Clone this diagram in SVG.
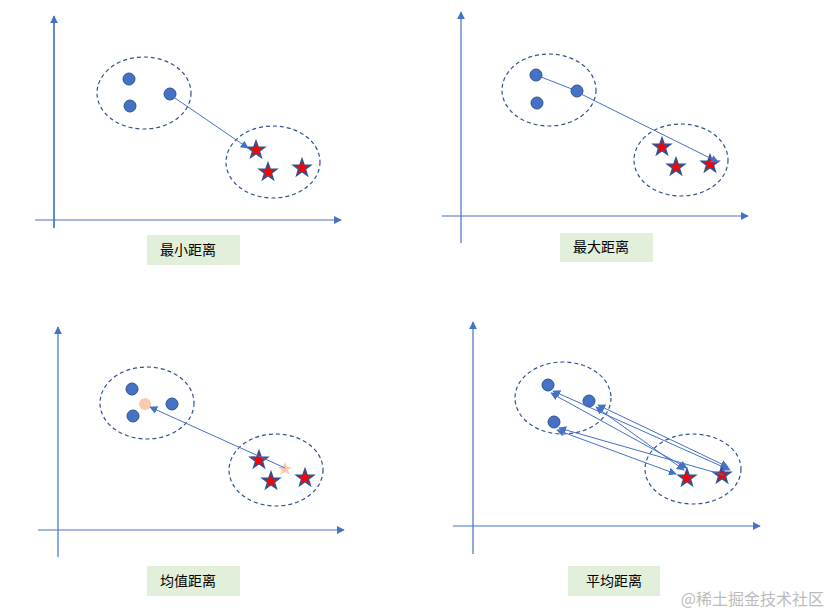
<svg xmlns="http://www.w3.org/2000/svg" width="832" height="614" viewBox="0 0 832 614">
<style>
.ax{stroke:#4472c4;stroke-width:1.2;fill:none}
.ln{stroke:#4472c4;stroke-width:1;fill:none}
.el{stroke:#2f528f;stroke-width:1.2;stroke-dasharray:4 3;fill:none}
.dot{fill:#4472c4;stroke:#2f528f;stroke-width:1}
.lb{fill:#e2efda}
.tx{font-family:"Noto Sans CJK SC","Liberation Sans",sans-serif;font-size:14px;fill:#000;text-anchor:middle}
</style>
<defs>
<marker id="ah" viewBox="0 0 10 10" refX="9" refY="5" markerWidth="8" markerHeight="8" orient="auto-start-reverse" markerUnits="userSpaceOnUse"><path d="M0,0 L10,5 L0,10 z" fill="#4472c4"/></marker>
<symbol id="star" viewBox="-10 -10 20 20" overflow="visible"><path d="M0,-9 L2.1,-2.9 L8.6,-2.8 L3.4,1.1 L5.3,7.3 L0,3.6 L-5.3,7.3 L-3.4,1.1 L-8.6,-2.8 L-2.1,-2.9 Z" fill="#ff0000" stroke="#2f528f" stroke-width="1.5"/></symbol>
</defs>
<rect width="832" height="614" fill="#fff"/>
<g id="axes">
<path class="ax" d="M54,228 V16 M35,220 H341" marker-end="url(#ah)"/>
<path class="ax" d="M54,228 V16" marker-end="url(#ah)"/>
<path class="ax" d="M461,243 V12" marker-end="url(#ah)"/>
<path class="ax" d="M442,216 H748" marker-end="url(#ah)"/>
<path class="ax" d="M58,557 V327" marker-end="url(#ah)"/>
<path class="ax" d="M38,530 H344" marker-end="url(#ah)"/>
<path class="ax" d="M473,554 V322" marker-end="url(#ah)"/>
<path class="ax" d="M453,526 H760" marker-end="url(#ah)"/>
</g>
<g id="p1">
<ellipse class="el" cx="144" cy="93" rx="47" ry="36"/>
<ellipse class="el" cx="273" cy="162" rx="47" ry="36"/>
<circle class="dot" cx="129" cy="79" r="6"/><circle class="dot" cx="130" cy="106" r="6"/><circle class="dot" cx="170" cy="94" r="6"/>
<use href="#star" x="246" y="140" width="20" height="20"/><use href="#star" x="258" y="162" width="20" height="20"/><use href="#star" x="292" y="158" width="20" height="20"/>
<rect class="lb" x="147" y="235" width="93" height="30"/><text class="tx" x="188" y="255">最小距离</text>
</g>
<g id="p2">
<ellipse class="el" cx="549" cy="90" rx="47" ry="36"/>
<ellipse class="el" cx="681" cy="160" rx="47" ry="36"/>
<circle class="dot" cx="536" cy="75" r="6"/><circle class="dot" cx="537" cy="103" r="6"/><circle class="dot" cx="577" cy="91" r="6"/>
<use href="#star" x="652" y="137" width="20" height="20"/><use href="#star" x="666" y="157" width="20" height="20"/><use href="#star" x="700" y="154" width="20" height="20"/>
<rect class="lb" x="560" y="233" width="93" height="29"/><text class="tx" x="601" y="252">最大距离</text>
</g>
<g id="p3">
<ellipse class="el" cx="147" cy="403" rx="47" ry="36"/>
<ellipse class="el" cx="276" cy="470" rx="47" ry="36"/>
<circle class="dot" cx="132" cy="389" r="6"/><circle class="dot" cx="133" cy="416" r="6"/><circle class="dot" cx="172" cy="404" r="6"/>
<circle cx="145" cy="404" r="6" fill="#f8cbad"/>
<use href="#star" x="249" y="450" width="20" height="20"/><use href="#star" x="261" y="471" width="20" height="20"/><use href="#star" x="295" y="468" width="20" height="20"/>
<path d="M285,462 L287,467 L292,467 L288,470 L290,475 L285,472 L280,475 L282,470 L278,467 L283,467 Z" fill="#f8cbad"/>
<rect class="lb" x="147" y="566" width="93" height="30"/><text class="tx" x="188" y="586">均值距离</text>
</g>
<g id="p4">
<ellipse class="el" cx="563" cy="398" rx="48" ry="36"/>
<ellipse class="el" cx="693" cy="469" rx="48" ry="35"/>
<circle class="dot" cx="548" cy="385" r="6"/><circle class="dot" cx="589" cy="401" r="6"/><circle class="dot" cx="554" cy="422" r="6"/>
<use href="#star" x="677" y="468" width="20" height="20"/><use href="#star" x="712" y="465" width="20" height="20"/>
<rect class="lb" x="568" y="566" width="92" height="30"/><text class="tx" x="614" y="586">平均距离</text>
</g>
<g id="connectors">
<line class="ln" x1="172" y1="96" x2="248" y2="148" marker-end="url(#ah)"/>
<line class="ln" x1="536" y1="75" x2="577" y2="91"/>
<line class="ln" x1="579" y1="93" x2="718" y2="162" marker-end="url(#ah)"/>
<line class="ln" x1="285" y1="468" x2="150" y2="407" marker-end="url(#ah)"/>
<line class="ln" x1="551" y1="393" x2="687" y2="468" marker-start="url(#ah)" marker-end="url(#ah)"/>
<line class="ln" x1="553" y1="391" x2="730" y2="470" marker-start="url(#ah)" marker-end="url(#ah)"/>
<line class="ln" x1="596" y1="407" x2="684" y2="470" marker-start="url(#ah)" marker-end="url(#ah)"/>
<line class="ln" x1="598" y1="405" x2="728" y2="467" marker-start="url(#ah)" marker-end="url(#ah)"/>
<line class="ln" x1="557" y1="430" x2="676" y2="474" marker-start="url(#ah)" marker-end="url(#ah)"/>
<line class="ln" x1="559" y1="428" x2="724" y2="475" marker-start="url(#ah)"/>
</g>
<text x="824" y="605" font-family="Noto Sans CJK SC,sans-serif" font-size="16" fill="#bbb" text-anchor="end">@稀土掘金技术社区</text>
</svg>
